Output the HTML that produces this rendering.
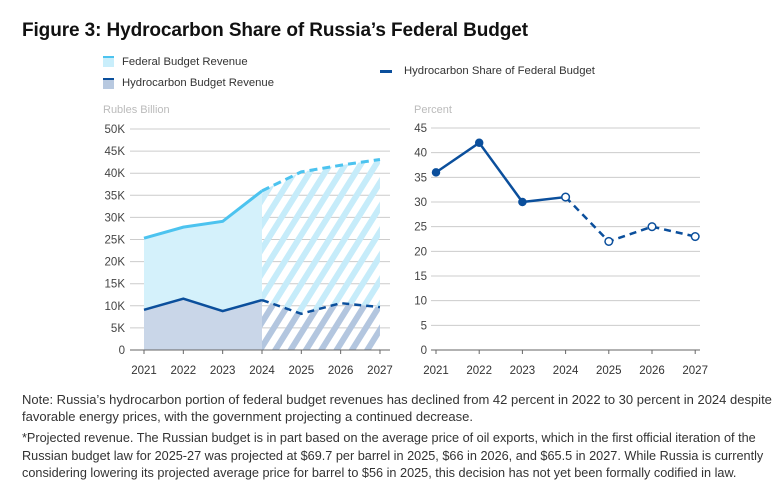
<!DOCTYPE html>
<html><head><meta charset="utf-8"><style>
body{margin:0;width:783px;height:486px;background:#fff;font-family:"Liberation Sans",sans-serif;position:relative;overflow:hidden}
.t{position:absolute;white-space:nowrap}
</style></head><body>
<div class="t" style="left:22px;top:20px;font-size:19px;font-weight:bold;color:#111;letter-spacing:-0.1px">Figure 3: Hydrocarbon Share of Russia’s Federal Budget</div>
<div style="position:absolute;left:103px;top:56px;width:11px;height:9px;background:#c9eefb;border-top:2px solid #4cc3ef"></div>
<div class="t" style="left:122px;top:56px;font-size:11.3px;color:#333">Federal Budget Revenue</div>
<div style="position:absolute;left:103px;top:78px;width:11px;height:9px;background:#b8c9e0;border-top:2px solid #0b4f9c"></div>
<div class="t" style="left:122px;top:77px;font-size:11.3px;color:#333">Hydrocarbon Budget Revenue</div>
<div style="position:absolute;left:380px;top:70px;width:12px;height:3px;background:#0b4f9c"></div>
<div class="t" style="left:404px;top:65px;font-size:11.3px;color:#333">Hydrocarbon Share of Federal Budget</div>
<svg id="svg" width="783" height="486" style="position:absolute;left:0;top:0" font-family="Liberation Sans, sans-serif">
<defs>
<pattern id="hatchL" patternUnits="userSpaceOnUse" width="13" height="13" patternTransform="rotate(32)"><rect width="6" height="13" fill="#c6ecfa"/></pattern>
<pattern id="hatchD" patternUnits="userSpaceOnUse" width="13" height="13" patternTransform="rotate(32)"><rect width="6" height="13" fill="#b3c6df"/></pattern>
</defs>
<g id="left"></g><g id="right"></g>
</svg>
<div class="t" style="left:22px;top:391px;font-size:13px;color:#333;line-height:17px">Note: Russia’s hydrocarbon portion of federal budget revenues has declined from 42 percent in 2022 to 30 percent in 2024 despite<br>favorable energy prices, with the government projecting a continued decrease.</div>
<div class="t" style="left:22px;top:430px;font-size:12.7px;color:#333;line-height:17.5px">*Projected revenue. The Russian budget is in part based on the average price of oil exports, which in the first official iteration of the<br>Russian budget law for 2025-27 was projected at $69.7 per barrel in 2025, $66 in 2026, and $65.5 in 2027. While Russia is currently<br>considering lowering its projected average price for barrel to $56 in 2025, this decision has not yet been formally codified in law.</div>
<script>
const years=["2021","2022","2023","2024","2025","2026","2027"];
const federal=[25.3,27.8,29.1,36.0,40.3,41.8,43.1];
const hydro=[9.1,11.6,8.8,11.3,8.2,10.6,9.7];
const share=[36,42,30,31,22,25,23];
const leftTicks=[0,5,10,15,20,25,30,35,40,45,50];
const rightTicks=[0,5,10,15,20,25,30,35,40,45];
const NS="http://www.w3.org/2000/svg";
function mk(p,t,a){const e=document.createElementNS(NS,t);for(const k in a)e.setAttribute(k,a[k]);p.appendChild(e);return e;}
const L=document.getElementById('left'),R=document.getElementById('right');
const lx=i=>144+i*39.33, ly=v=>350-v*221/50;
const rx=i=>436+i*43.2, ry=v=>350-v*222/45;
let t=mk(L,'text',{x:103,y:113,'font-size':11,fill:'#bbb'});t.textContent='Rubles Billion';

leftTicks.forEach(v=>{const g=mk(L,'line',{x1:130,x2:390,y1:ly(v),y2:ly(v),stroke:v?'#ccc':'#666','stroke-width':1});

const tx=mk(L,'text',{x:125,y:ly(v)+4,'font-size':11.5,fill:'#444','text-anchor':'end'});tx.textContent=v?v+'K':'0';
});
function pts(arr,a,b,fx,fy){return arr.slice(a,b+1).map((v,j)=>fx(a+j)+','+fy(v)).join(' ');}
function rev(arr,a,b,fx,fy){return arr.slice(a,b+1).map((v,j)=>fx(a+j)+','+fy(v)).reverse().join(' ');}
let e=mk(L,'polygon',{points:pts(federal,0,3,lx,ly)+' '+rev(hydro,0,3,lx,ly),fill:'#d4f1fb'});

e=mk(L,'polygon',{points:pts(hydro,0,3,lx,ly)+' '+lx(3)+','+ly(0)+' '+lx(0)+','+ly(0),fill:'#c9d6e8'});

e=mk(L,'polygon',{points:pts(federal,3,6,lx,ly)+' '+rev(hydro,3,6,lx,ly),fill:'url(#hatchL)'});

e=mk(L,'polygon',{points:pts(hydro,3,6,lx,ly)+' '+lx(6)+','+ly(0)+' '+lx(3)+','+ly(0),fill:'url(#hatchD)'});

e=mk(L,'line',{x1:130,x2:390,y1:ly(0),y2:ly(0),stroke:'#666'});

e=mk(L,'polyline',{points:pts(federal,0,3,lx,ly),fill:'none',stroke:'#4cc3ef','stroke-width':3});

e=mk(L,'polyline',{points:pts(federal,3,6,lx,ly),fill:'none',stroke:'#4cc3ef','stroke-width':3,'stroke-dasharray':'8 5'});

e=mk(L,'polyline',{points:pts(hydro,0,3,lx,ly),fill:'none',stroke:'#0b4f9c','stroke-width':2.5});

e=mk(L,'polyline',{points:pts(hydro,3,6,lx,ly),fill:'none',stroke:'#0b4f9c','stroke-width':2.5,'stroke-dasharray':'7 5'});

years.forEach((y,i)=>{const tk=mk(L,'line',{x1:lx(i),x2:lx(i),y1:350,y2:354,stroke:'#666'});

const tx=mk(L,'text',{x:lx(i),y:374,'font-size':11.5,fill:'#333','text-anchor':'middle'});tx.textContent=y;
});
t=mk(R,'text',{x:414,y:113,'font-size':11,fill:'#bbb'});t.textContent='Percent';

rightTicks.forEach(v=>{const g=mk(R,'line',{x1:431,x2:700,y1:ry(v),y2:ry(v),stroke:v?'#ccc':'#666'});

const tx=mk(R,'text',{x:427,y:ry(v)+4,'font-size':11.5,fill:'#444','text-anchor':'end'});tx.textContent=v;
});
e=mk(R,'polyline',{points:pts(share,0,3,rx,ry),fill:'none',stroke:'#0b4f9c','stroke-width':2.5});

e=mk(R,'polyline',{points:pts(share,3,6,rx,ry),fill:'none',stroke:'#0b4f9c','stroke-width':2.5,'stroke-dasharray':'7 5'});

years.forEach((y,i)=>{const tk=mk(R,'line',{x1:rx(i),x2:rx(i),y1:350,y2:354,stroke:'#666'});

const tx=mk(R,'text',{x:rx(i),y:374,'font-size':11.5,fill:'#333','text-anchor':'middle'});tx.textContent=y;

const c=mk(R,'circle',{cx:rx(i),cy:ry(share[i]),r:i<3?3.5:3.8,fill:i<3?'#0b4f9c':'#fff',stroke:'#0b4f9c','stroke-width':1.5});
});
</script>
</body></html>
